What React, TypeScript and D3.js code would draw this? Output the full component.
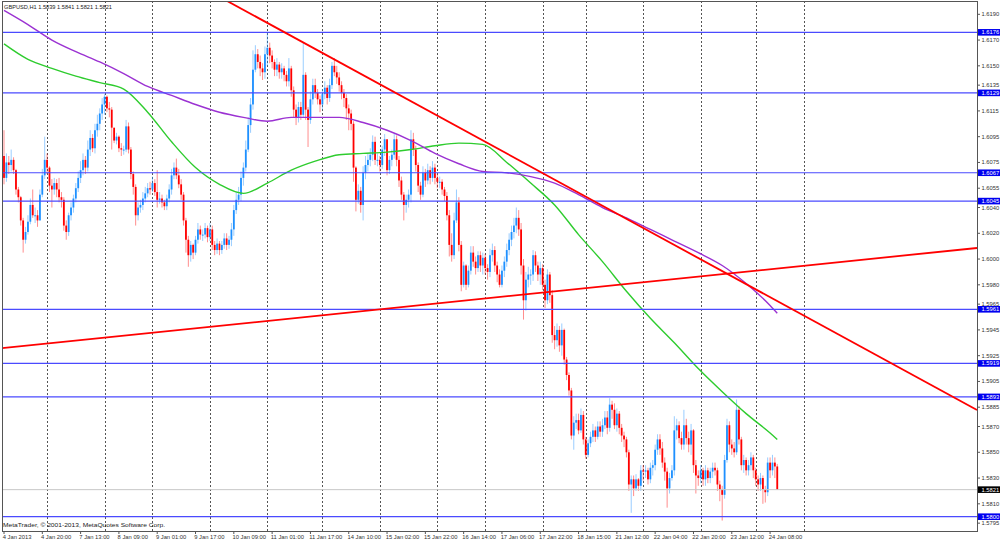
import * as d3 from "d3";
import { useEffect, useRef } from "react";

// prices are kept in pips above 1.5800
const basePrice = 1.58;
const firstOpen = 280;

const closes = [
  263, 275, 273, 277, 269, 254, 248, 230, 215, 221,
  229, 242, 234, 234, 230, 250, 265, 277, 271, 257,
  254, 259, 254, 248, 246, 226, 221, 234, 240, 247,
  255, 263, 269, 277, 271, 285, 294, 286, 300, 305,
  313, 320, 326, 317, 316, 302, 292, 295, 286, 285,
  285, 303, 285, 266, 256, 234, 240, 242, 247, 251,
  255, 254, 259, 252, 246, 247, 244, 241, 247, 254,
  265, 271, 265, 258, 250, 230, 215, 203, 211, 205,
  215, 223, 219, 219, 224, 217, 223, 211, 207, 212,
  207, 211, 216, 211, 215, 223, 238, 246, 250, 263,
  271, 285, 304, 320, 347, 359, 353, 348, 345, 359,
  364, 358, 353, 347, 351, 345, 348, 343, 338, 348,
  331, 316, 310, 318, 312, 343, 316, 308, 324, 335,
  329, 324, 320, 328, 333, 325, 335, 350, 345, 341,
  335, 329, 325, 317, 313, 305, 271, 246, 253, 242,
  267, 273, 277, 281, 291, 277, 277, 273, 285, 293,
  269, 277, 281, 293, 277, 261, 250, 242, 246, 250,
  293, 285, 273, 257, 250, 267, 261, 269, 263, 271,
  263, 260, 260, 254, 249, 234, 211, 203, 230, 244,
  211, 180, 195, 180, 191, 205, 198, 193, 203, 195,
  201, 193, 190, 203, 207, 195, 188, 180, 191, 198,
  207, 215, 221, 226, 232, 223, 195, 168, 184, 188,
  188, 203, 195, 188, 193, 180, 168, 188, 172, 141,
  137, 145, 133, 145, 122, 110, 98, 63, 73, 75,
  67, 79, 60, 48, 57, 62, 67, 62, 70, 66,
  71, 77, 69, 87, 83, 71, 80, 69, 63, 60,
  50, 25, 29, 22, 29, 24, 36, 35, 36, 29,
  38, 40, 52, 60, 53, 42, 35, 22, 30, 36,
  67, 71, 61, 56, 71, 61, 56, 67, 40, 32,
  30, 36, 29, 36, 30, 35, 38, 36, 25, 21,
  17, 44, 71, 56, 53, 50, 83, 60, 40, 44,
  36, 40, 46, 36, 29, 25, 30, 21, 19, 42,
  36, 42, 39, 21,
];

const highs = [
  300, 282, 280, 285, 279, 270, 256, 249, 232, 225,
  234, 247, 254, 240, 238, 254, 270, 295, 282, 272,
  262, 263, 262, 263, 252, 248, 230, 236, 244, 250,
  259, 268, 276, 282, 280, 292, 300, 297, 305, 312,
  317, 325, 328, 327, 322, 318, 300, 298, 296, 290,
  288, 308, 306, 287, 268, 258, 244, 246, 252, 256,
  259, 260, 264, 262, 269, 252, 250, 246, 250, 258,
  270, 275, 278, 270, 262, 252, 232, 218, 214, 212,
  218, 228, 226, 223, 228, 226, 228, 226, 214, 216,
  214, 214, 220, 220, 218, 228, 242, 252, 256, 268,
  275, 292, 310, 325, 362, 366, 363, 358, 352, 365,
  376, 368, 362, 355, 356, 353, 352, 350, 346, 356,
  350, 334, 320, 322, 322, 368, 345, 318, 330, 340,
  340, 332, 327, 332, 338, 335, 340, 353, 356, 350,
  345, 338, 332, 328, 320, 316, 307, 272, 258, 256,
  272, 280, 282, 286, 296, 295, 282, 280, 288, 297,
  292, 280, 285, 297, 296, 280, 264, 252, 250, 254,
  300, 298, 288, 275, 260, 272, 270, 274, 272, 276,
  274, 266, 264, 262, 256, 252, 238, 220, 236, 254,
  248, 214, 198, 196, 195, 210, 210, 202, 206, 206,
  205, 204, 196, 208, 212, 210, 198, 192, 195, 202,
  212, 220, 226, 232, 240, 238, 228, 200, 190, 194,
  192, 207, 206, 198, 198, 196, 184, 192, 190, 176,
  148, 150, 148, 150, 146, 124, 112, 100, 78, 80,
  80, 84, 82, 62, 60, 66, 72, 70, 74, 74,
  76, 82, 82, 92, 90, 88, 84, 82, 72, 66,
  62, 52, 32, 32, 33, 30, 40, 40, 40, 38,
  42, 44, 56, 64, 64, 58, 46, 38, 34, 40,
  78, 76, 74, 66, 83, 76, 66, 72, 68, 44,
  36, 40, 38, 40, 38, 38, 42, 42, 38, 28,
  24, 48, 76, 74, 60, 58, 91, 86, 62, 48,
  46, 44, 50, 48, 38, 32, 34, 32, 24, 46,
  46, 48, 46, 41,
];

const lows = [
  258, 260, 266, 268, 266, 250, 244, 226, 205, 212,
  219, 227, 232, 228, 225, 230, 248, 262, 266, 252,
  240, 250, 248, 244, 240, 222, 215, 218, 230, 236,
  244, 252, 259, 265, 266, 268, 280, 283, 282, 295,
  300, 308, 312, 314, 310, 285, 290, 289, 283, 280,
  281, 283, 282, 262, 250, 226, 230, 236, 238, 244,
  248, 250, 252, 249, 240, 243, 240, 238, 238, 244,
  250, 262, 262, 255, 246, 226, 205, 194, 198, 200,
  203, 212, 215, 214, 216, 213, 214, 207, 203, 204,
  203, 204, 208, 207, 208, 210, 218, 235, 242, 245,
  257, 268, 283, 298, 316, 345, 348, 342, 339, 340,
  350, 352, 348, 342, 342, 340, 340, 338, 334, 334,
  326, 310, 304, 306, 308, 310, 308, 287, 305, 320,
  325, 320, 314, 316, 324, 320, 322, 332, 342, 336,
  330, 324, 318, 308, 300, 300, 260, 237, 243, 236,
  230, 262, 268, 272, 276, 273, 272, 268, 270, 280,
  265, 266, 272, 278, 272, 256, 246, 230, 236, 240,
  244, 280, 268, 252, 246, 248, 256, 258, 258, 260,
  258, 255, 255, 250, 245, 230, 202, 198, 200, 228,
  206, 175, 178, 176, 178, 188, 194, 188, 190, 190,
  188, 188, 184, 186, 198, 190, 182, 178, 178, 186,
  194, 203, 210, 216, 220, 218, 188, 153, 160, 178,
  180, 183, 190, 183, 180, 176, 162, 165, 166, 135,
  130, 132, 128, 125, 118, 106, 94, 60, 52, 68,
  64, 65, 56, 45, 46, 54, 58, 58, 60, 62,
  62, 68, 64, 66, 76, 68, 66, 64, 58, 54,
  46, 20, 3, 16, 20, 20, 20, 28, 30, 25,
  26, 32, 36, 48, 48, 38, 28, 7, 18, 28,
  32, 60, 57, 52, 52, 56, 50, 48, 34, 18,
  24, 26, 24, 24, 26, 26, 30, 32, 20, 12,
  -3, 14, 42, 50, 48, 46, 48, 56, 36, 34,
  32, 32, 36, 30, 24, 20, 20, 10, 11, 16,
  30, 32, 30, 21,
];

// moving averages, read every 10 bars
const maBars = [
  0, 10, 20, 30, 40, 50, 60, 70, 80, 90, 100, 110, 120, 130, 140, 150, 160,
  170, 180, 190, 200, 210, 220, 230, 240, 250, 260, 270, 280, 290, 300, 310,
  320, 323,
];
const maGreen = [
  1.6167, 1.6155, 1.6148, 1.6142, 1.6137, 1.6132, 1.6114, 1.6091, 1.6071,
  1.6058, 1.6051, 1.6059, 1.6069, 1.6076, 1.6081, 1.6082, 1.6083, 1.6085,
  1.6088, 1.609, 1.6089, 1.6075, 1.6059, 1.6042, 1.6019, 1.5998, 1.5975,
  1.5954, 1.5935, 1.5915, 1.5897, 1.588, 1.5865, 1.586,
];
const maPurple = [
  1.6193, 1.6182, 1.617, 1.6161, 1.6153, 1.6144, 1.6134, 1.6127, 1.612,
  1.6114, 1.611, 1.6107, 1.611, 1.611, 1.611, 1.6106, 1.61, 1.6092, 1.6082,
  1.6074, 1.6068, 1.6067, 1.6064, 1.6059, 1.605, 1.604, 1.6032, 1.6023,
  1.6014, 1.6005, 1.5995, 1.5981, 1.5964, 1.5958,
];

// trend lines: [bar, price] anchors
const trendDown = [[124.9, 1.61682], [406.4, 1.58828]];
const trendUp = [[-0.4, 1.59309], [406.4, 1.60086]];

const levels = [1.6176, 1.6129, 1.6067, 1.6045, 1.5961, 1.5919, 1.5893, 1.58];
const lastPrice = 1.5821;

const priceTicks = [
  1.619, 1.617, 1.615, 1.6135, 1.6115, 1.6095, 1.6075, 1.6055, 1.604, 1.602,
  1.6, 1.598, 1.5965, 1.5945, 1.5925, 1.5905, 1.5885, 1.587, 1.585, 1.583,
  1.581, 1.5795,
];

const timeLabels = [
  "4 Jan 2013", "4 Jan 20:00", "7 Jan 13:00", "8 Jan 09:00", "9 Jan 01:00",
  "9 Jan 17:00", "10 Jan 09:00", "11 Jan 01:00", "11 Jan 17:00",
  "14 Jan 10:00", "15 Jan 02:00", "15 Jan 22:00", "16 Jan 14:00",
  "17 Jan 06:00", "17 Jan 22:00", "18 Jan 15:00", "21 Jan 12:00",
  "22 Jan 04:00", "22 Jan 20:00", "23 Jan 12:00", "24 Jan 08:00",
];
const barsPerLabel = 16;

// day separators (bar index)
const dayBars = [18, 42, 62, 86, 110, 133, 157, 181, 201, 225, 243, 267, 291, 314, 334];

const title = "GBPUSD,H1  1.5839 1.5841 1.5821 1.5821";
const copyright = "MetaTrader, \u00a9 2001-2013, MetaQuotes Software Corp.";

const App = () => {
  const ref: any = useRef();

  useEffect(() => {
    const svg = d3.select(ref.current);
    svg.selectAll("*").remove();

    const font = "'Liberation Sans', Arial, sans-serif";
    const fs = 5.8;
    const plot = { left: 2, top: 1, right: 977, bottom: 531 };

    const x = d3.scaleLinear().domain([0, 406]).range([4, 4 + 2.394 * 406]);
    const y = d3.scaleLinear().domain([1.58, 1.619]).range([516.7, 14.3]);
    const pp = (p: number) => basePrice + p / 10000;

    svg.append("rect").attr("width", 1000).attr("height", 541).attr("fill", "#fff");

    svg.append("defs").append("clipPath").attr("id", "plotclip")
      .append("rect")
      .attr("x", plot.left).attr("y", plot.top)
      .attr("width", plot.right - plot.left).attr("height", plot.bottom - plot.top);

    // vertical grid
    svg.append("g").selectAll("line").data(dayBars).join("line")
      .attr("x1", (d) => Math.round(x(d)) + 0.5).attr("x2", (d) => Math.round(x(d)) + 0.5)
      .attr("y1", plot.top).attr("y2", plot.bottom)
      .attr("stroke", "#555").attr("stroke-width", 1)
      .attr("stroke-dasharray", "2,2");

    // candles
    const bars = closes.map((c, i) => ({
      i,
      o: i === 0 ? firstOpen : closes[i - 1],
      c,
      h: highs[i],
      l: lows[i],
    }));
    const cg = svg.append("g").attr("clip-path", "url(#plotclip)");
    cg.selectAll("line.wick").data(bars).join("line")
      .attr("class", "wick")
      .attr("x1", (d) => x(d.i)).attr("x2", (d) => x(d.i))
      .attr("y1", (d) => y(pp(d.h))).attr("y2", (d) => y(pp(d.l)))
      .attr("stroke", (d) => (d.c >= d.o ? "#1e90ff" : "#ff0000"))
      .attr("stroke-opacity", 0.45)
      .attr("stroke-width", 1);
    cg.selectAll("rect.body").data(bars).join("rect")
      .attr("class", "body")
      .attr("x", (d) => x(d.i) - 0.9)
      .attr("width", 1.8)
      .attr("y", (d) => y(pp(Math.max(d.o, d.c))))
      .attr("height", (d) => Math.max(1, Math.abs(y(pp(d.o)) - y(pp(d.c)))))
      .attr("fill", (d) => (d.c >= d.o ? "#1e90ff" : "#ff0000"));

    // moving averages
    const maLine = d3.line<number>()
      .x((_, i) => x(maBars[i]))
      .y((d) => y(d))
      .curve(d3.curveMonotoneX);
    const mg = svg.append("g").attr("clip-path", "url(#plotclip)");
    mg.append("path").attr("d", maLine(maGreen)).attr("fill", "none")
      .attr("stroke", "#2ecc2e").attr("stroke-width", 1.4);
    mg.append("path").attr("d", maLine(maPurple)).attr("fill", "none")
      .attr("stroke", "#9b32d2").attr("stroke-width", 1.4);

    // horizontal levels
    const lg = svg.append("g").attr("clip-path", "url(#plotclip)");
    lg.append("line")
      .attr("x1", plot.left).attr("x2", plot.right)
      .attr("y1", y(lastPrice)).attr("y2", y(lastPrice))
      .attr("stroke", "#c8c8c8").attr("stroke-width", 1);
    lg.selectAll("line.level").data(levels).join("line")
      .attr("class", "level")
      .attr("x1", plot.left).attr("x2", plot.right)
      .attr("y1", (d) => y(d)).attr("y2", (d) => y(d))
      .attr("stroke", "#4a4aff").attr("stroke-width", 1.2);

    // trend lines
    const tl = (pts: number[][]) => {
      const [a, b] = pts;
      const slope = (b[1] - a[1]) / (b[0] - a[0]);
      const x0 = x.invert(plot.left), x1 = x.invert(plot.right);
      return [[x0, a[1] + slope * (x0 - a[0])], [x1, a[1] + slope * (x1 - a[0])]];
    };
    [trendDown, trendUp].forEach((t) => {
      const seg = tl(t);
      lg.append("line")
        .attr("x1", x(seg[0][0])).attr("y1", y(seg[0][1]))
        .attr("x2", x(seg[1][0])).attr("y2", y(seg[1][1]))
        .attr("stroke", "#ff0000").attr("stroke-width", 1.8);
    });

    // frame
    svg.append("rect")
      .attr("x", plot.left + 0.5).attr("y", plot.top + 0.5)
      .attr("width", plot.right - plot.left).attr("height", plot.bottom - plot.top)
      .attr("fill", "none").attr("stroke", "#555").attr("stroke-width", 1);

    // price axis
    const ax = svg.append("g").attr("font-family", font).attr("font-size", fs);
    priceTicks.forEach((t) => {
      ax.append("line").attr("x1", plot.right).attr("x2", plot.right + 3)
        .attr("y1", y(t)).attr("y2", y(t)).attr("stroke", "#555");
      ax.append("text").attr("x", plot.right + 4.5).attr("y", y(t) + 2)
        .attr("fill", "#333").text(t.toFixed(4));
    });
    const box = (v: number, fill: string) => {
      ax.append("rect").attr("x", plot.right + 1).attr("y", y(v) - 3.3)
        .attr("width", 23).attr("height", 6.6).attr("fill", fill);
      ax.append("text").attr("x", plot.right + 4.5).attr("y", y(v) + 2)
        .attr("fill", "#fff").text(v.toFixed(4));
    };
    levels.forEach((v) => box(v, "#0000f0"));
    box(lastPrice, "#000");

    // time axis
    timeLabels.forEach((t, k) => {
      const px = x(k * barsPerLabel);
      ax.append("line").attr("x1", px).attr("x2", px)
        .attr("y1", plot.bottom).attr("y2", plot.bottom + 3).attr("stroke", "#555");
      ax.append("text").attr("x", px - 1.3).attr("y", 538.5)
        .attr("fill", "#333").text(t);
    });

    // captions
    ax.append("text").attr("x", 4).attr("y", 8.5).attr("fill", "#222")
      .attr("textLength", 108).attr("lengthAdjust", "spacingAndGlyphs").text(title);
    ax.append("text").attr("x", 3).attr("y", 527).attr("fill", "#222")
      .attr("textLength", 162).attr("lengthAdjust", "spacingAndGlyphs").text(copyright);
  }, []);

  return (
    <svg
      ref={ref}
      width={1000}
      height={541}
      style={{ position: "absolute", left: 0, top: 0, display: "block" }}
    />
  );
};

export default App;
